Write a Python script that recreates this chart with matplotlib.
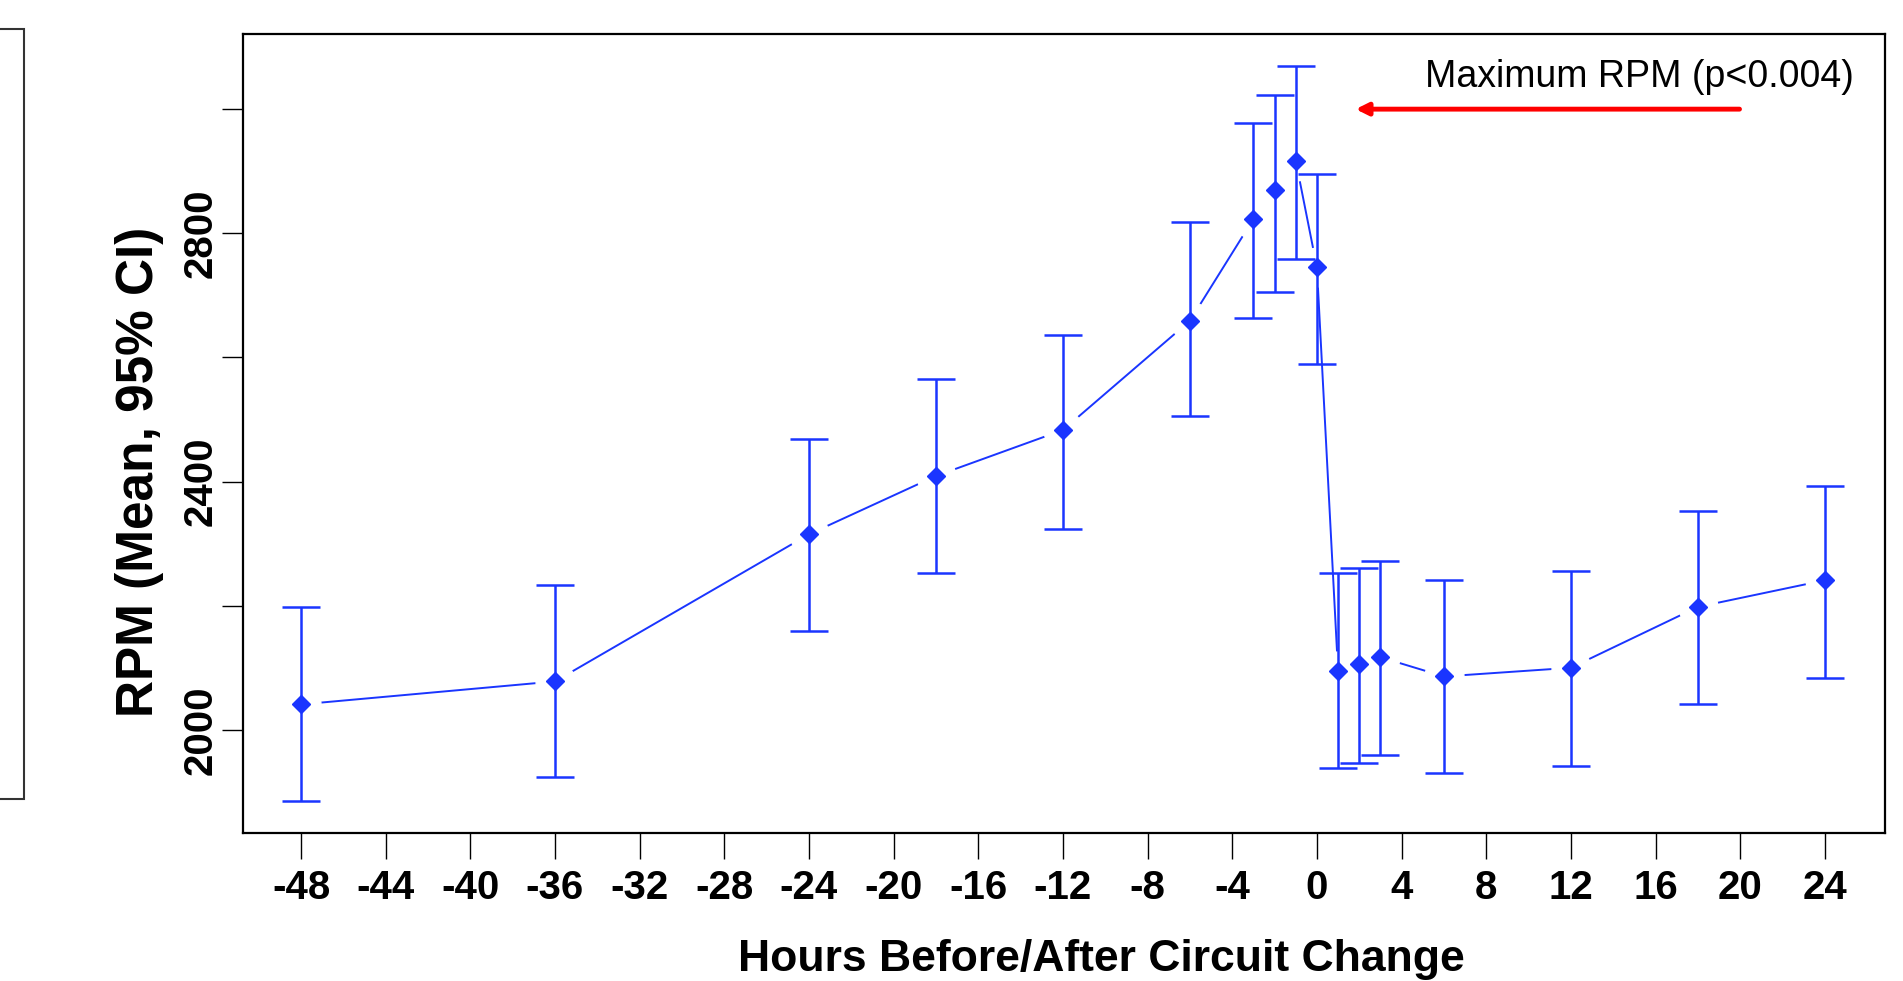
import matplotlib.pyplot as plt
from matplotlib.patches import Rectangle

# hours relative to circuit change
godziny = [-48, -36, -24, -18, -12, -6, -3, -2, -1, 0, 1, 2, 3, 6, 12, 18, 24]
# mean RPM
srednia = [2041, 2078, 2315, 2409, 2483, 2659, 2823, 2870, 2917, 2745,
           2094, 2106, 2117, 2086, 2100, 2198, 2241]
# 95% CI bounds
ci_gora = [2198, 2233, 2469, 2565, 2636, 2818, 2978, 3023, 3070, 2896,
           2252, 2260, 2272, 2241, 2256, 2352, 2393]
ci_dol = [1885, 1924, 2160, 2252, 2323, 2505, 2663, 2706, 2759, 2589,
          1939, 1947, 1959, 1930, 1941, 2041, 2084]

x_ticki = list(range(-48, 25, 4))
y_ticki = [2000, 2200, 2400, 2600, 2800, 3000]
y_etykiety = ['2000', '', '2400', '', '2800', '']

niebieski = '#1a35ff'
font = ['Liberation Sans', 'DejaVu Sans']

fig = plt.figure(figsize=(19.03, 9.81), dpi=100)
ax = fig.add_axes([0.1276, 0.151, 0.8628, 0.8143])

# line between points with gaps around markers (like R type="b")
ax.plot(godziny, srednia, color=niebieski, lw=1.4, zorder=1)
ax.plot(godziny, srednia, 'o', color='white', ms=28, zorder=2)

dol = [s - d for s, d in zip(srednia, ci_dol)]
gora = [g - s for s, g in zip(srednia, ci_gora)]
ax.errorbar(godziny, srednia, yerr=[dol, gora], fmt='D', color=niebieski,
            ms=9, elinewidth=1.8, capsize=14, capthick=1.8, zorder=3)

ax.set_xlim(-50.75, 26.83)
ax.set_ylim(1834, 3121)
ax.set_xticks(x_ticki)
ax.set_xticklabels([str(t) for t in x_ticki], family=font, fontweight='bold', fontsize=29)
ax.set_yticks(y_ticki)
ax.set_yticklabels(y_etykiety, family=font, fontweight='bold', fontsize=29,
                   rotation=90, va='center')
ax.tick_params(axis='x', length=19, width=1, pad=7)
ax.tick_params(axis='y', length=15, width=1, pad=2)
for s in ax.spines.values():
    s.set_linewidth(1.6)

# annotation with red arrow
ax.annotate('', xy=(1.7, 3000), xytext=(20.1, 3000),
            arrowprops=dict(arrowstyle='-|>', color='red', lw=3.5,
                            mutation_scale=18))
ax.text(5.1, 3052, 'Maximum RPM (p<0.004)', family=font, fontsize=27,
        ha='left', va='center')

fig.text(0.5785, 0.0102, 'Hours Before/After Circuit Change', family=font,
         fontweight='bold', fontsize=32, ha='center', va='baseline')
fig.text(0.0733, 0.5186, 'RPM (Mean, 95% CI)', family=font, fontweight='bold',
         fontsize=37, rotation=90, ha='center', va='center')

# edge of the neighbouring panel on the left
fig.patches.append(Rectangle((-0.01, 0.1856), 0.0228, 0.785, transform=fig.transFigure,
                             fill=False, edgecolor='#333333', lw=1.5))

fig.savefig('out.png', dpi=100)
